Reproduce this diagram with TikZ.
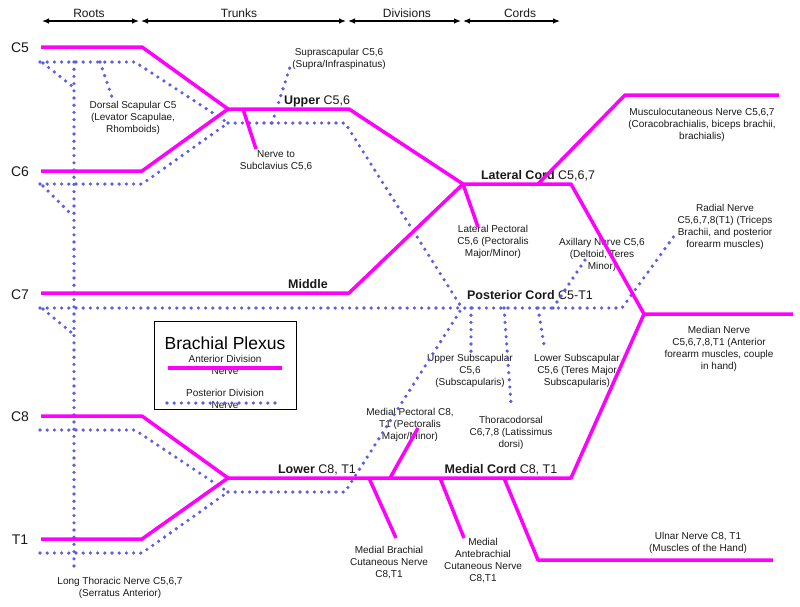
\documentclass[tikz,border=0pt]{standalone}
\usepackage{fontspec}
\setmainfont{Liberation Sans}
\usetikzlibrary{arrows.meta}
\definecolor{ant}{RGB}{255,0,255}
\definecolor{pst}{RGB}{92,92,228}
\definecolor{txt}{RGB}{25,25,25}
\begin{document}
\begin{tikzpicture}[x=1pt,y=-1pt,
  antl/.style={draw=ant,line width=3.5pt,line join=round},
  postl/.style={draw=pst,line width=3.6pt,line cap=round,line join=round,dash pattern=on 0pt off 7.2pt},
  hdrarrow/.style={draw=black,line width=1.2pt,{Latex[length=7pt,width=5.5pt]}-{Latex[length=7pt,width=5.5pt]}},
  lbl/.style={font=\fontsize{10}{12}\selectfont,align=center,inner sep=0pt,text=txt},
  rootlbl/.style={font=\fontsize{14}{16}\selectfont,inner sep=0pt,text=txt},
  hdr/.style={font=\fontsize{12}{14}\selectfont,inner sep=0pt,text=txt},
  big/.style={font=\fontsize{12.5}{14}\selectfont,inner sep=0pt,text=txt},
  title/.style={font=\fontsize{17.5}{20}\selectfont,inner sep=0pt,text=black}]
\useasboundingbox (0,0) rectangle (800,606);

% ---------- header ----------
\coordinate (h1a) at (42,21);  \coordinate (h1b) at (139,21);
\coordinate (h2a) at (141,21); \coordinate (h2b) at (346,21);
\coordinate (h3a) at (348,21); \coordinate (h3b) at (461,21);
\coordinate (h4a) at (463,21); \coordinate (h4b) at (560,21);
\draw[hdrarrow] (h1a) -- (h1b);
\draw[hdrarrow] (h2a) -- (h2b);
\draw[hdrarrow] (h3a) -- (h3b);
\draw[hdrarrow] (h4a) -- (h4b);
\node[hdr] (roots) at (89,13) {Roots};
\node[hdr] (trunks) at (239,13) {Trunks};
\node[hdr] (divs) at (407,13) {Divisions};
\node[hdr] (cords) at (520,13) {Cords};

% ---------- coordinates ----------
% anterior
\coordinate (c5a) at (41,47);   \coordinate (c5b) at (142,47);
\coordinate (c6a) at (41,171);  \coordinate (c6b) at (142,171);
\coordinate (c7a) at (41,293);
\coordinate (c8a) at (41,416);  \coordinate (c8b) at (142,416);
\coordinate (t1a) at (41,539);  \coordinate (t1b) at (142,539);
\coordinate (ut) at (228,109);  \coordinate (utE) at (349,109);
\coordinate (mtE) at (349,293);
\coordinate (lt) at (228,478);
\coordinate (lat) at (463,184); \coordinate (latE) at (571,184);
\coordinate (med) at (644,314); \coordinate (medE) at (793,314);
\coordinate (mcE) at (571,478);
\coordinate (musc0) at (538,184); \coordinate (musc1) at (625,95); \coordinate (musc2) at (779,95);
\coordinate (latpec) at (478,227);
\coordinate (subcl0) at (243,109); \coordinate (subcl1) at (256,149);
\coordinate (mpec0) at (390,478); \coordinate (mpec1) at (418,428);
\coordinate (mbc0) at (369,478); \coordinate (mbc1) at (396,538);
\coordinate (mab0) at (440,478); \coordinate (mab1) at (464,538);
\coordinate (uln0) at (504,478); \coordinate (uln1) at (538,560); \coordinate (uln2) at (773,560);
% posterior
\coordinate (p5a) at (40,62);   \coordinate (p5b) at (135,62);
\coordinate (p6a) at (40,184);  \coordinate (p6b) at (142,184);
\coordinate (p7a) at (40,308);
\coordinate (p8a) at (40,430);  \coordinate (p8b) at (135,430);
\coordinate (pt1a) at (40,553); \coordinate (pt1b) at (142,553);
\coordinate (ptU) at (228,123); \coordinate (ptUE) at (345,123);
\coordinate (ptL) at (228,492); \coordinate (ptLE) at (345,492);
\coordinate (post) at (462,308); \coordinate (postE) at (622,308);
\coordinate (rad) at (677,232);
\coordinate (lt0) at (74,62);   \coordinate (lt1) at (74,568);
\coordinate (ltb5a) at (43,63);  \coordinate (ltb5b) at (72,86);
\coordinate (ltb6a) at (43,186); \coordinate (ltb6b) at (72,215);
\coordinate (ltb7a) at (43,309); \coordinate (ltb7b) at (72,333);
\coordinate (ds0) at (100,62);  \coordinate (ds1) at (112,97);
\coordinate (ss0) at (272,123); \coordinate (ss1) at (290,67);
\coordinate (us0) at (471,308); \coordinate (us1) at (471,352);
\coordinate (td0) at (504,308); \coordinate (td1) at (511,403);
\coordinate (ls0) at (538,308); \coordinate (ls1) at (544,345);
\coordinate (ax0) at (553,308); \coordinate (ax1) at (587,257);

% ---------- labels ----------
\node[rootlbl] (C5) at (20,48) {C5};
\node[rootlbl] (C6) at (20,172) {C6};
\node[rootlbl] (C7) at (20,295) {C7};
\node[rootlbl] (C8) at (20,417) {C8};
\node[rootlbl] (T1) at (20,540) {T1};

\node[lbl] (dorsal) at (133,118) {Dorsal Scapular C5\\(Levator Scapulae,\\Rhomboids)};
\node[lbl] (supra) at (339,59) {Suprascapular C5,6\\(Supra/Infraspinatus)};
\node[big] (upper) at (317,101) {\bfseries Upper\mdseries{} C5,6};
\node[lbl] (subcl) at (276,161) {Nerve to\\Subclavius C5,6};
\node[big] (latcord) at (538,176) {\bfseries Lateral Cord\mdseries{} C5,6,7};
\node[lbl] (muscl) at (702,125) {Musculocutaneous Nerve C5,6,7\\(Coracobrachialis, biceps brachii,\\brachialis)};
\node[lbl] (latpecl) at (493,242) {Lateral Pectoral\\C5,6 (Pectoralis\\Major/Minor)};
\node[lbl] (axl) at (602,255) {Axillary Nerve C5,6\\(Deltoid, Teres\\Minor)};
\node[lbl] (radl) at (725,227) {Radial Nerve\\C5,6,7,8(T1) (Triceps\\Brachii, and posterior\\forearm muscles)};
\node[big] (middle) at (308,284) {\bfseries Middle};
\node[big] (postcord) at (530,295) {\bfseries Posterior Cord\mdseries{} C5-T1};
\node[lbl] (medl) at (719,349) {Median Nerve\\C5,6,7,8,T1 (Anterior\\forearm muscles, couple\\in hand)};
\node[lbl] (usl) at (470,371) {Upper Subscapular\\C5,6\\(Subscapularis)};
\node[lbl] (tdl) at (511,433) {Thoracodorsal\\C6,7,8 (Latissimus\\dorsi)};
\node[lbl] (lsl) at (577,371) {Lower Subscapular\\C5,6 (Teres Major\\Subscapularis)};
\node[lbl] (mpecl) at (410,425) {Medial Pectoral C8,\\T1 (Pectoralis\\Major/Minor)};
\node[big] (lower) at (317,470) {\bfseries Lower\mdseries{} C8, T1};
\node[big] (medcord) at (501,470) {\bfseries Medial Cord\mdseries{} C8, T1};
\node[lbl] (mbcl) at (389,563) {Medial Brachial\\Cutaneous Nerve\\C8,T1};
\node[lbl] (mabl) at (483,561) {Medial\\Antebrachial\\Cutaneous Nerve\\C8,T1};
\node[lbl] (ulnl) at (698,543) {Ulnar Nerve C8, T1\\(Muscles of the Hand)};
\node[lbl] (ltl) at (120,588) {Long Thoracic Nerve C5,6,7\\(Serratus Anterior)};

% ---------- legend ----------
\node[draw=black,line width=1pt,minimum width=142pt,minimum height=88pt,inner sep=0pt] (legend) at (225,365) {};
\node[title] (legtitle) at (225,343) {Brachial Plexus};
\node[lbl] (legant) at (225,365) {Anterior Division\\Nerve};
\node[lbl] (legpost) at (225,399) {Posterior Division\\Nerve};
\coordinate (la0) at (168,368); \coordinate (la1) at (282,368);
\coordinate (lp0) at (167,403); \coordinate (lp1) at (280,403);
\draw[antl] (la0) -- (la1);
\draw[postl] (lp0) -- (lp1);

% ---------- posterior division (dotted) ----------
\draw[postl] (lt0) -- (lt1);
\draw[postl] (ltb5a) -- (ltb5b);
\draw[postl] (ltb6a) -- (ltb6b);
\draw[postl] (ltb7a) -- (ltb7b);
\draw[postl] (p5a) -- (p5b) -- (ptU);
\draw[postl] (p6a) -- (p6b) -- (ptU);
\draw[postl] (ptU) -- (ptUE) -- (post);
\draw[postl] (p7a) -- (post) -- (postE) -- (rad);
\draw[postl] (p8a) -- (p8b) -- (ptL);
\draw[postl] (pt1a) -- (pt1b) -- (ptL);
\draw[postl] (ptL) -- (ptLE) -- (post);
\draw[postl] (ds0) -- (ds1);
\draw[postl] (ss0) -- (ss1);
\draw[postl] (us0) -- (us1);
\draw[postl] (td0) -- (td1);
\draw[postl] (ls0) -- (ls1);
\draw[postl] (ax0) -- (ax1);

% ---------- anterior division (solid) ----------
\draw[antl] (c5a) -- (c5b) -- (ut);
\draw[antl] (c6a) -- (c6b) -- (ut);
\draw[antl] (ut) -- (utE) -- (lat);
\draw[antl] (c7a) -- (mtE) -- (lat);
\draw[antl] (lat) -- (latE) -- (med) -- (medE);
\draw[antl] (musc0) -- (musc1) -- (musc2);
\draw[antl] (lat) -- (latpec);
\draw[antl] (subcl0) -- (subcl1);
\draw[antl] (c8a) -- (c8b) -- (lt);
\draw[antl] (t1a) -- (t1b) -- (lt);
\draw[antl] (lt) -- (mcE) -- (med);
\draw[antl] (mpec0) -- (mpec1);
\draw[antl] (mbc0) -- (mbc1);
\draw[antl] (mab0) -- (mab1);
\draw[antl] (uln0) -- (uln1) -- (uln2);
\end{tikzpicture}
\end{document}
